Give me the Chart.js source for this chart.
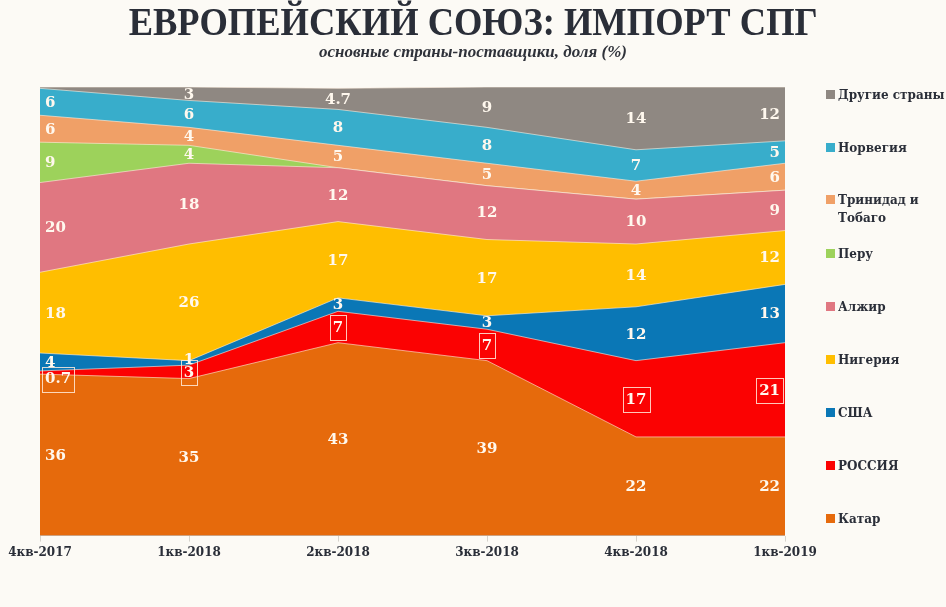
<!DOCTYPE html>
<html>
<head>
<meta charset="utf-8">
<script src="https://cdn.jsdelivr.net/npm/chart.js@4/dist/chart.umd.min.js"></script>
<style>
  html, body { margin: 0; padding: 0; background: #fcfaf5; }
  #wrap { position: relative; width: 946px; height: 607px; overflow: hidden; }
  #title { position: absolute; left: 0; top: -3px; width: 946px; text-align: center;
    font: bold 41px "Liberation Serif", serif; color: #2a2e38; transform: scaleX(0.89); transform-origin: 475px 0; }
  #sub { position: absolute; left: 0; top: 42px; width: 946px; text-align: center;
    font: italic bold 17px "Liberation Serif", serif; color: #2f323a; }
  #legend { position: absolute; left: 0; top: 0; }
  .li { position: absolute; left: 826px; font: bold 12px "DejaVu Serif", serif; color: #2a2e38; line-height: 18px; }
  .li span.sw { position: absolute; left: 0; top: 4px; width: 9px; height: 9px; }
  .li span.tx { display: block; margin-left: 12px; white-space: nowrap; }
  canvas { position: absolute; left: 0; top: 0; }
</style>
</head>
<body>
<div id="wrap">
  <canvas id="mainChart" width="946" height="607"></canvas>
  <div id="title">ЕВРОПЕЙСКИЙ СОЮЗ: ИМПОРТ СПГ</div>
  <div id="sub">основные страны-поставщики, доля (%)</div>
  <div id="legend"></div>
</div>
<script>
// Данные
const quarters = ["4кв-2017", "1кв-2018", "2кв-2018", "3кв-2018", "4кв-2018", "1кв-2019"];
const qatar    = [36, 35, 43, 39, 22, 22];
const russia   = [0.7, 3, 7, 7, 17, 21];
const usa      = [4, 1, 3, 3, 12, 13];
const nigeria  = [18, 26, 17, 17, 14, 12];
const algeria  = [20, 18, 12, 12, 10, 9];
const peru     = [9, 4, 0, 0, 0, 0];
const trinidad = [6, 4, 5, 5, 4, 6];
const norway   = [6, 6, 8, 8, 7, 5];
const others   = [0.3, 3, 4.7, 9, 14, 12];

const series = [
    { name: "Катар", data: qatar, color: "#e66a0c" },
    { name: "РОССИЯ", data: russia, color: "#fb0202", boxed: true },
    { name: "США", data: usa, color: "#0a77b6" },
    { name: "Нигерия", data: nigeria, color: "#ffbe00" },
    { name: "Алжир", data: algeria, color: "#e07781" },
    { name: "Перу", data: peru, color: "#9dd25b" },
    { name: "Тринидад и<br>Тобаго", data: trinidad, color: "#f0a067" },
    { name: "Норвегия", data: norway, color: "#38adcb" },
    { name: "Другие страны", data: others, color: "#8f8882" },
];

// Легенда (сверху вниз)
const legendTops = [86, 139, 191, 245, 298, 351, 404, 457, 510];
const legendEl = document.getElementById("legend");
series.slice().reverse().forEach((s, i) => {
    const d = document.createElement("div");
    d.className = "li";
    d.style.top = legendTops[i] + "px";
    d.innerHTML = '<span class="sw" style="background:' + s.color + '"></span><span class="tx">' + s.name + "</span>";
    legendEl.appendChild(d);
});

// Подписи значений
const valueLabels = {
    id: "valueLabels",
    afterDatasetsDraw(chart) {
        const ctx = chart.ctx;
        const xs = chart.scales.x, ys = chart.scales.y;
        const cum = quarters.map(() => 0);
        ctx.save();
        ctx.font = "bold 15px 'DejaVu Serif', serif";
        ctx.textBaseline = "middle";
        series.forEach((s) => {
            s.data.forEach((v, j) => {
                const lo = cum[j];
                cum[j] += v;
                if (v < 0.5) return;
                let y = (ys.getPixelForValue(lo) + ys.getPixelForValue(lo + v)) / 2;
                let x = xs.getPixelForValue(j);
                let align = "center";
                if (j === 0) { align = "left"; x += 5; }
                if (j === quarters.length - 1) { align = "right"; x -= 5; }
                if (v < 2) y += (s.boxed ? 6 : -4);
                const txt = String(v);
                ctx.textAlign = align;
                ctx.fillStyle = "#fff8ee";
                ctx.fillText(txt, x, y + 1);
                if (s.boxed) {
                    const w = ctx.measureText(txt).width;
                    const left = align === "left" ? x - 3 : align === "right" ? x - w - 3 : x - w / 2 - 3;
                    ctx.strokeStyle = "rgba(255,235,220,0.85)";
                    ctx.lineWidth = 1;
                    ctx.strokeRect(Math.round(left) + 0.5, Math.round(y - 12) + 0.5, Math.round(w + 6), 25);
                }
            });
        });
        ctx.restore();
    },
};

const ctx = document.getElementById("mainChart").getContext("2d");
new Chart(ctx, {
    type: "line",
    data: {
        labels: quarters,
        datasets: series.map((s) => ({
            label: s.name,
            data: s.data,
            backgroundColor: s.color,
            borderColor: "rgba(255,240,225,0.6)",
            borderWidth: 1,
            pointRadius: 0,
            tension: 0,
            fill: true,
        })),
    },
    options: {
        responsive: false,
        animation: false,
        layout: { padding: { left: 40, right: 161, top: 87, bottom: 43 } },
        plugins: { legend: { display: false }, tooltip: { enabled: false } },
        scales: {
            x: {
                offset: false,
                border: { display: false },
                grid: { drawOnChartArea: false, color: "#d6d3cc", tickLength: 6 },
                ticks: {
                    color: "#2a2e38",
                    padding: 4,
                    maxRotation: 0,
                    font: { size: 12, weight: "bold", family: "'DejaVu Serif', serif" },
                },
            },
            y: { stacked: true, display: false, min: 0, max: 100 },
        },
    },
    plugins: [valueLabels],
});
</script>
</body>
</html>
